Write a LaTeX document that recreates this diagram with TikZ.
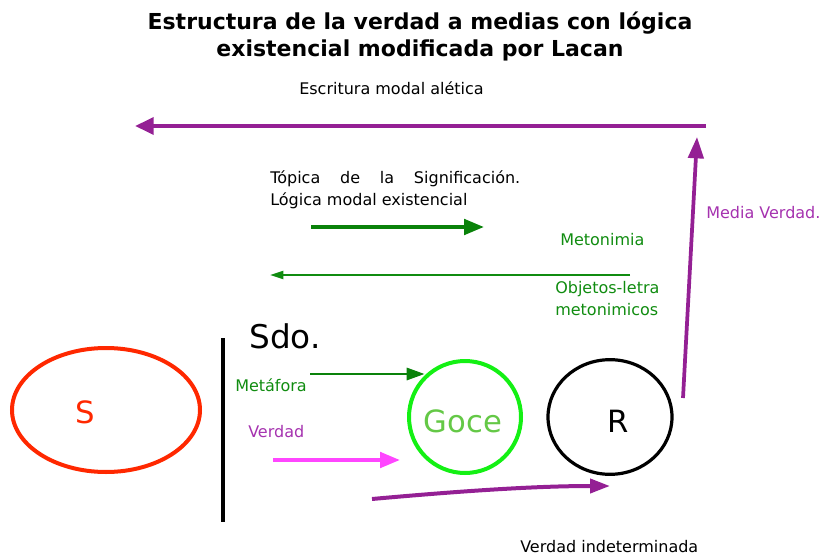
\documentclass[tikz,border=0pt]{standalone}
\usepackage{fontspec}
\setmainfont{DejaVu Sans}
\usetikzlibrary{arrows.meta,shapes.geometric}
\definecolor{violeta}{RGB}{148,32,148}
\definecolor{verdeosc}{RGB}{16,140,16}
\definecolor{verdelinea}{RGB}{10,130,10}
\definecolor{verdeclaro}{RGB}{20,240,20}
\definecolor{verdegoce}{RGB}{100,200,70}
\definecolor{rosa}{RGB}{255,70,255}
\definecolor{rojo}{RGB}{255,40,0}
\definecolor{violtexto}{RGB}{165,50,175}

\begin{document}
\begin{tikzpicture}[x=0.75pt,y=0.75pt,yscale=-1,
  txt/.style={inner sep=0pt,anchor=base west,font=\fontsize{12}{14}\selectfont},
  grande/.style={inner sep=0pt,anchor=base,font=\fontsize{23}{26}\selectfont},
  gruesa/.style={line width=3pt,-{Triangle[length=15pt,width=11.5pt]}}]
%set diagram left start at 0, and has height of 556
\useasboundingbox (0,0) rectangle (824,556);

% Title
\node [inner sep=0pt,anchor=base,font=\bfseries\fontsize{16.5}{19}\selectfont] (titulo1) at (420,30) {Estructura de la verdad a medias con lógica};
\node [inner sep=0pt,anchor=base,font=\bfseries\fontsize{16.5}{19}\selectfont] (titulo2) at (420,57) {existencial modificada por Lacan};

% Text Node
\node [txt] (escritura) at (299,95) {Escritura modal alética};
\coordinate (escrituraA) at (706,126);
\coordinate (escrituraB) at (135,126);
%Arrow escritura
\draw [violeta,line width=3.2pt,-{Triangle[length=14pt,width=12.5pt]}] (escrituraA) -- (escrituraB);

% Text Node
\node [txt] (topica) at (270,183) {\makebox[187.5pt][s]{Tópica de la Significación.}};
\node [txt] (logica) at (270,205) {Lógica modal existencial};
\coordinate (sigA) at (311,227);
\coordinate (sigB) at (484,227);
\draw [verdelinea,gruesa] (sigA) -- (sigB);

% Metonimia
\node [txt,text=verdeosc] (metonimia) at (560,245) {Metonimia};
\coordinate (metA) at (630,275);
\coordinate (metB) at (270,275);
\draw [verdeosc,line width=1.4pt,-{Triangle[length=10pt,width=6pt]}] (metA) -- (metB);
\node [txt,text=verdeosc] (objetos) at (555,293) {Objetos-letra};
\node [txt,text=verdeosc] (metonimicos) at (555,315) {metonimicos};

% Media verdad
\coordinate (mediaA) at (683,398);
\coordinate (mediaB) at (697,137);
\draw [violeta,line width=2.8pt,-{Triangle[length=16pt,width=11.5pt]}] (mediaA) -- (mediaB);
\node [txt,text=violtexto] (media) at (706,218) {Media Verdad.};

%Shape: Ellipse S
\node [draw=rojo,line width=3pt,ellipse,minimum width=141pt,minimum height=93pt] (elipseS) at (106,410) {};
\node [grande,text=rojo] (letraS) at (85,423) {S};

%Line
\coordinate (barraA) at (223,338);
\coordinate (barraB) at (223,522);
\draw [line width=2.4pt] (barraA) -- (barraB);

% Sdo.
\node [txt,font=\fontsize{24.5}{28}\selectfont] (sdo) at (249,348) {Sdo.};

%Shape: Circle Goce
\node [draw=verdeclaro,line width=3pt,circle,minimum size=84pt] (goce) at (465,417) {};
\node [grande,text=verdegoce] (textoGoce) at (463,432) {Goce};

%Shape: Ellipse R
\node [draw,line width=2.4pt,ellipse,minimum width=93pt,minimum height=86pt] (elipseR) at (610,417) {};
\node [grande] (letraR) at (618,432) {R};

% Metafora
\node [txt,text=verdeosc] (metafora) at (235,391) {Metáfora};
\coordinate (metaforaA) at (310,374);
\draw [verdelinea,line width=2.2pt,-{Triangle[length=13.5pt,width=9pt]}] (metaforaA) -- (metaforaA -| goce.134);

% Verdad
\node [txt,text=violtexto] (verdad) at (248,437) {Verdad};
\coordinate (verdadA) at (273,460);
\coordinate (verdadB) at (400,460);
\draw [rosa,gruesa] (verdadA) -- (verdadB);

%Curve Lines
\coordinate (indetA) at (372,499);
\coordinate (indetB) at (610,486);
\draw [violeta,line width=3pt,-{Triangle[length=15pt,width=10.5pt]}] (indetA) .. controls (450,492) and (530,486) .. (indetB);
\node [txt] (indeterminada) at (520,552) {Verdad indeterminada};

\end{tikzpicture}
\end{document}
